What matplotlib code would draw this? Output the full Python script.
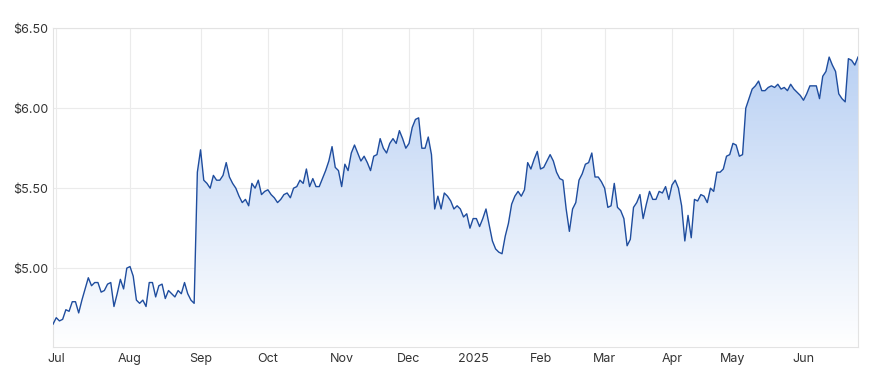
import matplotlib
matplotlib.use("Agg")
import matplotlib.pyplot as plt
import numpy as np
import pandas as pd

# ASX trading days, 28 Jun 2024 - 26 Jun 2025
holidays = ["2024-12-25", "2024-12-26", "2025-01-01", "2025-01-27",
            "2025-04-18", "2025-04-21", "2025-04-25", "2025-06-09"]
dates = pd.bdate_range("2024-06-28", "2025-06-26", freq="C", holidays=holidays)

# closing price
prices = [
    4.65, 4.69, 4.67, 4.68, 4.74, 4.73, 4.79, 4.79, 4.72, 4.80,
    4.87, 4.94, 4.89, 4.91, 4.91, 4.85, 4.86, 4.90, 4.91, 4.76,
    4.84, 4.93, 4.87, 5.00, 5.01, 4.95, 4.80, 4.78, 4.80, 4.76,
    4.91, 4.91, 4.82, 4.89, 4.90, 4.81, 4.86, 4.84, 4.82, 4.86,
    4.84, 4.91, 4.84, 4.80, 4.78, 5.60, 5.74, 5.55, 5.53, 5.50,
    5.58, 5.55, 5.55, 5.58, 5.66, 5.57, 5.53, 5.50, 5.45, 5.41,
    5.43, 5.39, 5.53, 5.50, 5.55, 5.46, 5.48, 5.49, 5.46, 5.44,
    5.41, 5.43, 5.46, 5.47, 5.44, 5.50, 5.51, 5.55, 5.53, 5.62,
    5.51, 5.56, 5.51, 5.51, 5.56, 5.61, 5.67, 5.76, 5.63, 5.61,
    5.51, 5.65, 5.61, 5.72, 5.77, 5.72, 5.67, 5.70, 5.66, 5.61,
    5.70, 5.71, 5.81, 5.75, 5.72, 5.78, 5.81, 5.78, 5.86, 5.81,
    5.75, 5.78, 5.88, 5.93, 5.94, 5.75, 5.75, 5.82, 5.71, 5.37,
    5.45, 5.37, 5.47, 5.45, 5.42, 5.37, 5.39, 5.37, 5.32, 5.34,
    5.25, 5.31, 5.31, 5.26, 5.31, 5.37, 5.27, 5.17, 5.12, 5.10,
    5.09, 5.20, 5.28, 5.40, 5.45, 5.48, 5.45, 5.49, 5.66, 5.62,
    5.68, 5.73, 5.62, 5.63, 5.67, 5.71, 5.67, 5.60, 5.56, 5.55,
    5.37, 5.23, 5.37, 5.41, 5.55, 5.59, 5.65, 5.66, 5.72, 5.57,
    5.57, 5.54, 5.50, 5.38, 5.39, 5.53, 5.38, 5.36, 5.31, 5.14,
    5.18, 5.38, 5.41, 5.46, 5.31, 5.40, 5.48, 5.43, 5.43, 5.48,
    5.47, 5.51, 5.43, 5.52, 5.55, 5.50, 5.39, 5.17, 5.33, 5.19,
    5.43, 5.42, 5.46, 5.45, 5.41, 5.50, 5.48, 5.60, 5.60, 5.62,
    5.70, 5.71, 5.78, 5.77, 5.70, 5.71, 6.00, 6.06, 6.12, 6.14,
    6.17, 6.11, 6.11, 6.13, 6.14, 6.13, 6.15, 6.12, 6.13, 6.11,
    6.15, 6.12, 6.10, 6.08, 6.05, 6.09, 6.14, 6.14, 6.14, 6.06,
    6.20, 6.23, 6.32, 6.27, 6.23, 6.09, 6.06, 6.04, 6.31, 6.30,
    6.27, 6.32,
]
y_ticks = [5.0, 5.5, 6.0, 6.5]

x = np.arange(len(prices))
y = np.array(prices)
ymin, ymax = 4.505, 6.5

plt.rcParams['font.family'] = ['Inter', 'DejaVu Sans']
fig = plt.figure(figsize=(8.81, 3.87), dpi=100)
ax = fig.add_axes([0.0602, 0.1026, 0.9137, 0.8243])

# gradient fill under the line
grad = np.linspace(0, 1, 256).reshape(-1, 1)
top = np.array([0.70, 0.80, 0.95])
bottom = np.array([1.0, 1.0, 1.0])
img = bottom + (top - bottom) * grad
img = img[:, None, :].repeat(2, axis=1)
im = ax.imshow(img, extent=[0, len(x) - 1, ymin, ymax], origin="lower",
               aspect="auto", zorder=1, interpolation="bilinear")
poly = ax.fill_between(x, y, ymin, color="none", lw=0)
im.set_clip_path(poly.get_paths()[0], transform=ax.transData)

ax.plot(x, y, color="#1f4d9e", lw=1.0, zorder=3)

# month ticks on first trading day of each month
ser = pd.Series(x, index=dates)
firsts = ser.groupby([dates.year, dates.month]).first()
tick_pos, tick_lab = [], []
for (yr, mo), pos in firsts.items():
    if pos == 0:
        continue
    tick_pos.append(pos)
    tick_lab.append(str(yr) if mo == 1 else pd.Timestamp(yr, mo, 1).strftime("%b"))

ax.set_xticks(tick_pos)
ax.set_xticklabels(tick_lab)
ax.set_yticks(y_ticks)
ax.set_yticklabels(["${:.2f}".format(v) for v in y_ticks])
ax.set_xlim(0, len(x) - 1)
ax.set_ylim(ymin, ymax)

ax.grid(True, color="#ebebeb", lw=0.8, zorder=0)
ax.set_axisbelow(True)
for s in ax.spines.values():
    s.set_color("#e3e3e3")
    s.set_linewidth(0.8)
ax.tick_params(length=0, labelsize=9, colors="#333333")
ax.tick_params(axis="x", pad=4)
ax.tick_params(axis="y", pad=3.5)

plt.savefig("out.png", dpi=100)
